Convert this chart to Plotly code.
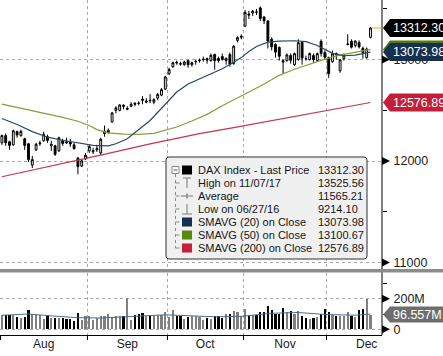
import pandas as pd
import plotly.graph_objects as go

# ---------------- data ----------------
holidays = ['2017-10-03', '2017-10-31']
dates = [d.strftime('%Y-%m-%d') for d in pd.bdate_range('2017-08-01', '2017-12-18')
         if d.strftime('%Y-%m-%d') not in holidays]

opens = [12180, 12250, 12190, 12160, 12290, 12250, 12220, 12170, 11960, 12110,
         12170, 12200, 12240, 12150, 12150, 12100, 12200, 12190, 12190, 12160,
         12030, 11950, 12020,
         12100, 12090, 12110, 12080, 12270, 12280, 12385, 12500, 12500, 12550,
         12510, 12540, 12570, 12570, 12610, 12580, 12600, 12580, 12620, 12650, 12710,
         12860, 12930, 12975, 12960, 12950, 12990, 12950, 12980, 12990, 13000,
         13010, 12990, 13050, 13010, 13030, 12990, 13050, 12960, 13190, 13220,
         13330, 13450, 13460, 13470, 13510, 13420, 13380, 13200, 13150, 13120,
         12990, 12990, 13040, 12950, 13000, 13170, 13010, 13000, 13040, 12990,
         13180, 13070,
         13020, 12980, 13060, 12890, 13010, 13150, 13180, 13140, 13170, 13110,
         13020, 13220]
highs = [12260, 12270, 12200, 12310, 12300, 12310, 12230, 12180, 12050, 12180,
         12200, 12290, 12260, 12200, 12160, 12240, 12220, 12230, 12220, 12180,
         12040, 12020, 12080,
         12160, 12130, 12160, 12230, 12350, 12320, 12480, 12540, 12560, 12560,
         12540, 12580, 12580, 12590, 12640, 12620, 12660, 12620, 12670, 12720, 12840,
         12920, 12980, 12990, 12980, 12990, 13000, 12980, 13000, 13010, 13030,
         13020, 13060, 13060, 13030, 13060, 13020, 13070, 13140, 13230, 13250,
         13490, 13480, 13490, 13500, 13525, 13430, 13390, 13220, 13160, 13130,
         13000, 13060, 13060, 13070, 13200, 13180, 13040, 13070, 13060, 13070,
         13200, 13090,
         13030, 13090, 13070, 13000, 13060, 13250, 13200, 13190, 13190, 13130,
         13120, 13320]
lows = [12160, 12150, 12110, 12150, 12230, 12240, 12110, 11990, 11930, 12100,
        12150, 12190, 12180, 12100, 12050, 12090, 12150, 12170, 12140, 12110,
        11868, 11940, 12010,
        12080, 12070, 12090, 12060, 12240, 12270, 12380, 12470, 12490, 12510,
        12500, 12530, 12540, 12550, 12560, 12570, 12570, 12560, 12600, 12640, 12700,
        12850, 12920, 12950, 12940, 12940, 12920, 12930, 12950, 12970, 12980,
        12960, 12980, 12900, 12970, 12990, 12950, 12930, 12950, 13170, 13200,
        13320, 13400, 13430, 13440, 13380, 13350, 13110, 13090, 13020, 12990,
        12860, 12980, 12960, 12940, 12990, 12950, 12990, 12990, 12970, 12980,
        13030, 13000,
        12820, 12970, 13000, 12870, 12990, 13140, 13110, 13120, 13110, 13010,
        13010, 13210]
closes = [12251, 12181, 12154, 12298, 12257, 12292, 12154, 12014, 12014, 12165,
          12177, 12263, 12203, 12165, 12066, 12229, 12174, 12180, 12168, 12123,
          11946, 12002, 12056,
          12142, 12103, 12124, 12215, 12296, 12303, 12475, 12524, 12553, 12540,
          12518, 12560, 12561, 12569, 12600, 12592, 12595, 12605, 12657, 12704, 12829,
          12903, 12970, 12968, 12956, 12976, 12949, 12970, 12982, 12991, 13004,
          12995, 13043, 12990, 12991, 13003, 13013, 12953, 13133, 13217, 13229,
          13465, 13440, 13478, 13468, 13406, 13382, 13183, 13127, 13074, 13033,
          12976, 13047, 12994, 13059, 13167, 13015, 13009, 13060, 13000, 13059,
          13061, 13024,
          12861, 13058, 13048, 12999, 13045, 13153, 13123, 13183, 13126, 13069,
          13104, 13312.30]

volumes_m = [92, 92, 92, 92, 80, 74, 80, 124, 100, 96,
             96, 68, 92, 74, 74, 74, 72, 70, 65, 52,
             107, 63, 85, 85, 60, 74, 85, 85, 100, 80,
             90, 85, 88, 205, 63, 95, 100, 107, 85, 95,
             85, 95, 95, 113, 80, 124, 90, 85, 70, 80,
             85, 89, 78, 63, 74, 70, 85, 85, 74, 100,
             100, 122, 113, 85, 135, 96, 96, 92, 113, 113,
             150, 129, 102, 102, 140, 111, 118, 102, 122, 85,
             74, 68, 74, 81, 102, 133, 111, 96, 85, 89,
             85, 113, 85, 81, 129, 135, 198, 96.557]

sma20_dates = ['2017-08-01', '2017-08-07', '2017-08-11', '2017-08-17', '2017-08-23', '2017-08-29',
               '2017-09-04', '2017-09-08', '2017-09-12', '2017-09-15', '2017-09-20', '2017-09-25',
               '2017-09-29', '2017-10-05', '2017-10-10', '2017-10-13', '2017-10-18', '2017-10-23',
               '2017-10-26', '2017-10-30', '2017-11-02', '2017-11-06', '2017-11-09', '2017-11-14',
               '2017-11-20', '2017-11-23', '2017-11-28', '2017-11-30', '2017-12-04', '2017-12-07',
               '2017-12-12', '2017-12-18']
sma20_vals = [12420, 12360, 12290, 12235, 12205, 12180, 12155, 12150, 12170, 12220, 12310, 12400,
              12560, 12680, 12760, 12810, 12860, 12910, 12975, 13020, 13080, 13130, 13172, 13182,
              13186, 13178, 13140, 13100, 13062, 13038, 13045, 13073.98]

sma50_dates = ['2017-08-01', '2017-08-07', '2017-08-11', '2017-08-17', '2017-08-23', '2017-08-29',
               '2017-09-01', '2017-09-05', '2017-09-08', '2017-09-14', '2017-09-20', '2017-09-26',
               '2017-09-29', '2017-10-05', '2017-10-11', '2017-10-17', '2017-10-23', '2017-10-27',
               '2017-11-02', '2017-11-08', '2017-11-14', '2017-11-20', '2017-11-24', '2017-11-30',
               '2017-12-06', '2017-12-12', '2017-12-18']
sma50_vals = [12562, 12530, 12498, 12465, 12430, 12392, 12350, 12310, 12278, 12266, 12263, 12272,
              12300, 12335, 12395, 12460, 12545, 12620, 12680, 12760, 12845, 12905, 12955, 13005,
              13045, 13075, 13100.67]

sma200_dates = ['2017-08-01', '2017-08-18', '2017-09-06', '2017-09-25', '2017-10-13', '2017-10-26',
                '2017-11-10', '2017-11-21', '2017-12-04', '2017-12-18']
sma200_vals = [11845, 11950, 12059, 12170, 12270, 12330, 12400, 12445, 12505, 12576.89]

volma_dates = ['2017-08-01', '2017-08-10', '2017-08-18', '2017-08-29', '2017-09-06', '2017-09-19',
               '2017-09-29', '2017-10-11', '2017-10-19', '2017-10-30', '2017-11-10', '2017-11-21',
               '2017-11-30', '2017-12-12', '2017-12-18']
volma_vals = [92, 100, 88, 76, 74, 85, 95, 88, 82, 85, 105, 110, 97, 92, 100]

legend_labels = ['DAX Index - Last Price', 'High on 11/07/17', 'Average', 'Low on 06/27/16',
                 'SMAVG (20) on Close', 'SMAVG (50) on Close', 'SMAVG (200) on Close']
stat_high = 13525.56
stat_avg = 11565.21
stat_low = 9214.10

price_ticks = [11000, 12000, 13000]
price_minor = [11500, 12500, 13500]
vol_ticks = [0, 200]
vol_ticktext = ['0', '200M']
vol_minor = [100, 300]

# ---------------- layout helpers ----------------
W, H = 443, 356
PW, PH = 382, 335          # plot area in pixels
def px(x):
    return x / PW
def py(y):
    return 1 - y / PH

pos = {d: i for i, d in enumerate(dates)}
idx = list(range(len(dates)))
XR = [-0.5, 100.03]

months = []
for i, d in enumerate(dates):
    m = d[:7]
    if not months or months[-1][0] != m:
        months.append([m, i, i])
    else:
        months[-1][2] = i
boundaries = [m[1] - 0.5 for m in months]
label_pos, label_txt = [], []
for k, (m, a, b) in enumerate(months):
    if k < len(months) - 1:
        label_pos.append((a + b) / 2)
    else:
        full = len(pd.bdate_range(m + '-01', pd.Timestamp(m + '-01') + pd.offsets.MonthEnd(0)))
        label_pos.append(a - 0.5 + full / 2)
    label_txt.append(pd.Timestamp(m + '-01').strftime('%b'))

C_SMA20 = '#2b4766'
C_SMA50 = '#8a9c3a'
C_SMA200 = '#c8344f'
LBL_NAVY = '#18304f'
LBL_GREEN = '#4f7a18'
LBL_RED = '#c41e3a'
GRID = '#a8a8a8'
FONT = 'Liberation Sans, Arial, sans-serif'

fig = go.Figure()

fig.add_trace(go.Candlestick(
    x=idx, open=opens, high=highs, low=lows, close=closes,
    xaxis='x', yaxis='y', whiskerwidth=0,
    increasing=dict(line=dict(color='black', width=1), fillcolor='white'),
    decreasing=dict(line=dict(color='black', width=1), fillcolor='black'),
    hoverinfo='skip'))

for dl, vl, col in [(sma200_dates, sma200_vals, C_SMA200),
                    (sma50_dates, sma50_vals, C_SMA50),
                    (sma20_dates, sma20_vals, C_SMA20)]:
    fig.add_trace(go.Scatter(x=[pos[d] for d in dl], y=vl, mode='lines',
                             line=dict(color=col, width=1.2), xaxis='x', yaxis='y',
                             hoverinfo='skip'))

vol_colors = ['#7f7f7f' if c >= o else '#000000' for o, c in zip(opens, closes)]
fig.add_trace(go.Bar(x=idx, y=volumes_m, marker=dict(color=vol_colors, line=dict(width=0)),
                     width=0.6, xaxis='x2', yaxis='y2', hoverinfo='skip'))
fig.add_trace(go.Scatter(x=[pos[d] for d in volma_dates], y=volma_vals, mode='lines',
                         line=dict(color='#4d6d8c', width=1), xaxis='x2', yaxis='y2',
                         hoverinfo='skip'))
# invisible trace for label axis
fig.add_trace(go.Scatter(x=[XR[0]], y=[0], mode='markers', marker=dict(opacity=0),
                         xaxis='x3', yaxis='y2', hoverinfo='skip'))

price_dom = [(PH - 268) / PH, 1]
vol_dom = [0, (PH - 273) / PH]
PRANGE = [10945, 13588]
VRANGE = [-37, 368]

grid = dict(showgrid=True, gridcolor=GRID, griddash='dot', gridwidth=1)
fig.update_layout(
    width=W, height=H, margin=dict(l=0, r=W - PW, t=0, b=H - PH),
    paper_bgcolor='white', plot_bgcolor='white', showlegend=False,
    font=dict(family=FONT, size=12, color='#1a1a1a'),
    bargap=0,
    xaxis=dict(domain=[0, 1], anchor='y', range=XR, tickmode='array', tickvals=boundaries,
               showticklabels=False, ticks='', zeroline=False, showline=False,
               rangeslider=dict(visible=False), fixedrange=True, **grid),
    yaxis=dict(domain=price_dom, anchor='x', side='right', range=PRANGE,
               tickmode='array', tickvals=price_ticks, ticktext=[str(v) for v in price_ticks],
               ticks='outside', ticklen=8, tickcolor='rgba(0,0,0,0)',
               tickfont=dict(size=12.5, color='#1a1a1a'),
               minor=dict(tickmode='array', tickvals=price_minor, ticks='outside', ticklen=4,
                          tickcolor='black', showgrid=False),
               zeroline=False, showline=False, **grid),
    xaxis2=dict(domain=[0, 1], anchor='y2', range=XR, tickmode='array', tickvals=boundaries,
                showticklabels=False, ticks='outside', ticklen=4, tickcolor='black',
                showline=True, linecolor='black', linewidth=1, zeroline=False, **grid),
    xaxis3=dict(overlaying='x2', anchor='y2', range=XR, tickmode='array', tickvals=label_pos,
                ticktext=label_txt, ticks='', showgrid=False, showline=False, zeroline=False,
                side='bottom', tickfont=dict(size=12, color='#1a1a1a')),
    yaxis2=dict(domain=vol_dom, anchor='x2', side='right', range=VRANGE,
                tickmode='array', tickvals=vol_ticks, ticktext=vol_ticktext,
                ticks='outside', ticklen=8, tickcolor='rgba(0,0,0,0)',
                tickfont=dict(size=12.5, color='#1a1a1a'),
                minor=dict(tickmode='array', tickvals=vol_minor, ticks='outside', ticklen=4,
                           tickcolor='black', showgrid=False),
                zeroline=False, showline=False, **grid),
)

shapes = []
annots = []

# right axis line
shapes.append(dict(type='line', xref='paper', yref='paper', x0=1, x1=1, y0=0, y1=1,
                   line=dict(color='black', width=1)))
# separator bar
shapes.append(dict(type='rect', xref='paper', yref='paper', x0=0, x1=W / PW,
                   y0=py(272.5), y1=py(269), fillcolor='#8c8c8c', line=dict(width=0)))
# triangle tick markers
for v in price_ticks:
    shapes.append(dict(type='path', xref='paper', xsizemode='pixel', xanchor=1,
                       yref='y', ysizemode='pixel', yanchor=v,
                       path='M 0 -4 L 8 0 L 0 4 Z', fillcolor='black', line=dict(width=0)))
for v in vol_ticks:
    shapes.append(dict(type='path', xref='paper', xsizemode='pixel', xanchor=1,
                       yref='y2', ysizemode='pixel', yanchor=v,
                       path='M 0 -4 L 8 0 L 0 4 Z', fillcolor='black', line=dict(width=0)))

# last price orange line
shapes.append(dict(type='line', xref='x', yref='y', x0=idx[-1] + 0.3, x1=XR[1],
                   y0=closes[-1], y1=closes[-1], line=dict(color='#f0a030', width=1)))

def value_label(val, yref, color, text=None, half=9):
    shapes.append(dict(type='path', xref='paper', xsizemode='pixel', xanchor=1,
                       yref=yref, ysizemode='pixel', yanchor=val,
                       path=f'M 1 0 L 8 {half} L 80 {half} L 80 {-half} L 8 {-half} Z',
                       fillcolor=color, line=dict(width=0)))
    if text is not None:
        annots.append(dict(xref='paper', yref=yref, x=1, y=val, xanchor='left',
                           yanchor='middle', xshift=9, text=text, showarrow=False,
                           font=dict(family=FONT, size=12.5, color='white')))

value_label(sma200_vals[-1], 'y', LBL_RED, f'{sma200_vals[-1]:.2f}')
# SMA50 label sits underneath the SMA20 label: only its top edge shows
value_label(sma50_vals[-1], 'y', LBL_GREEN)
value_label(sma20_vals[-1], 'y', LBL_NAVY, f'{sma20_vals[-1]:.2f}')
value_label(closes[-1], 'y', '#000000', f'{closes[-1]:.2f}')
value_label(volumes_m[-1], 'y2', '#6e6e6e', f'{volumes_m[-1]:.3f}M', half=8)

# ---------------- legend box ----------------
LX0, LX1, LY0, LY1 = 166, 367, 157, 259
r = 3
rx, ry = r / PW, r / PH
x0, x1, y0, y1 = px(LX0), px(LX1), py(LY1), py(LY0)
path = (f'M {x0+rx} {y0} L {x1-rx} {y0} Q {x1} {y0} {x1} {y0+ry} L {x1} {y1-ry} '
        f'Q {x1} {y1} {x1-rx} {y1} L {x0+rx} {y1} Q {x0} {y1} {x0} {y1-ry} L {x0} {y0+ry} '
        f'Q {x0} {y0} {x0+rx} {y0} Z')
shapes.append(dict(type='path', xref='paper', yref='paper', path=path,
                   fillcolor='#f0f0f0', line=dict(color='#303030', width=1)))

rows = [170, 183, 196, 209, 222, 235, 248]
legend_values = [closes[-1], stat_high, stat_avg, stat_low,
                 sma20_vals[-1], sma50_vals[-1], sma200_vals[-1]]
TREE = '#8a8a8a'
# tree
shapes.append(dict(type='line', xref='paper', yref='paper', x0=px(175.5), x1=px(175.5),
                   y0=py(174), y1=py(rows[-1]), line=dict(color=TREE, width=1, dash='dot')))
for yy in rows[1:]:
    shapes.append(dict(type='line', xref='paper', yref='paper', x0=px(175.5), x1=px(179.5),
                       y0=py(yy), y1=py(yy), line=dict(color=TREE, width=1)))
# collapse box
shapes.append(dict(type='rect', xref='paper', yref='paper', x0=px(172), x1=px(179),
                   y0=py(173.5), y1=py(166.5), fillcolor='white', line=dict(color=TREE, width=1)))
shapes.append(dict(type='line', xref='paper', yref='paper', x0=px(173.5), x1=px(177.5),
                   y0=py(170), y1=py(170), line=dict(color='#555', width=1)))
# squares
sq_colors = {0: '#000000', 4: LBL_NAVY, 5: '#5a8a0c', 6: LBL_RED}
for k, col in sq_colors.items():
    yy = rows[k]
    shapes.append(dict(type='rect', xref='paper', yref='paper', x0=px(182), x1=px(192),
                       y0=py(yy + 4.5), y1=py(yy - 4.5), fillcolor=col, line=dict(width=0)))
ICON = '#9a9a9a'
def seg(xa, ya, xb, yb, w=1.4):
    shapes.append(dict(type='line', xref='paper', yref='paper', x0=px(xa), x1=px(xb),
                       y0=py(ya), y1=py(yb), line=dict(color=ICON, width=w)))
# high icon
seg(183, rows[1] - 5, 191, rows[1] - 5)
seg(187, rows[1] - 5, 187, rows[1] + 5)
# average icon
seg(181, rows[2], 193, rows[2])
seg(187, rows[2] - 2.5, 187, rows[2] + 2.5, 2)
# low icon
seg(187, rows[3] - 5, 187, rows[3] + 5)
seg(182, rows[3] + 5, 192, rows[3] + 5)

for yy, lab, val in zip(rows, legend_labels, legend_values):
    annots.append(dict(xref='paper', yref='paper', x=px(196), y=py(yy), xanchor='left',
                       yanchor='middle', text=lab, showarrow=False,
                       font=dict(family=FONT, size=11, color='#151515')))
    annots.append(dict(xref='paper', yref='paper', x=px(316), y=py(yy), xanchor='left',
                       yanchor='middle', text=f'{val:.2f}', showarrow=False,
                       font=dict(family=FONT, size=11, color='#151515')))

fig.update_layout(shapes=shapes, annotations=annots)
fig.write_html('out.html', config={'displayModeBar': False},
               post_script="document.body.style.margin='0';document.body.style.padding='0';")
